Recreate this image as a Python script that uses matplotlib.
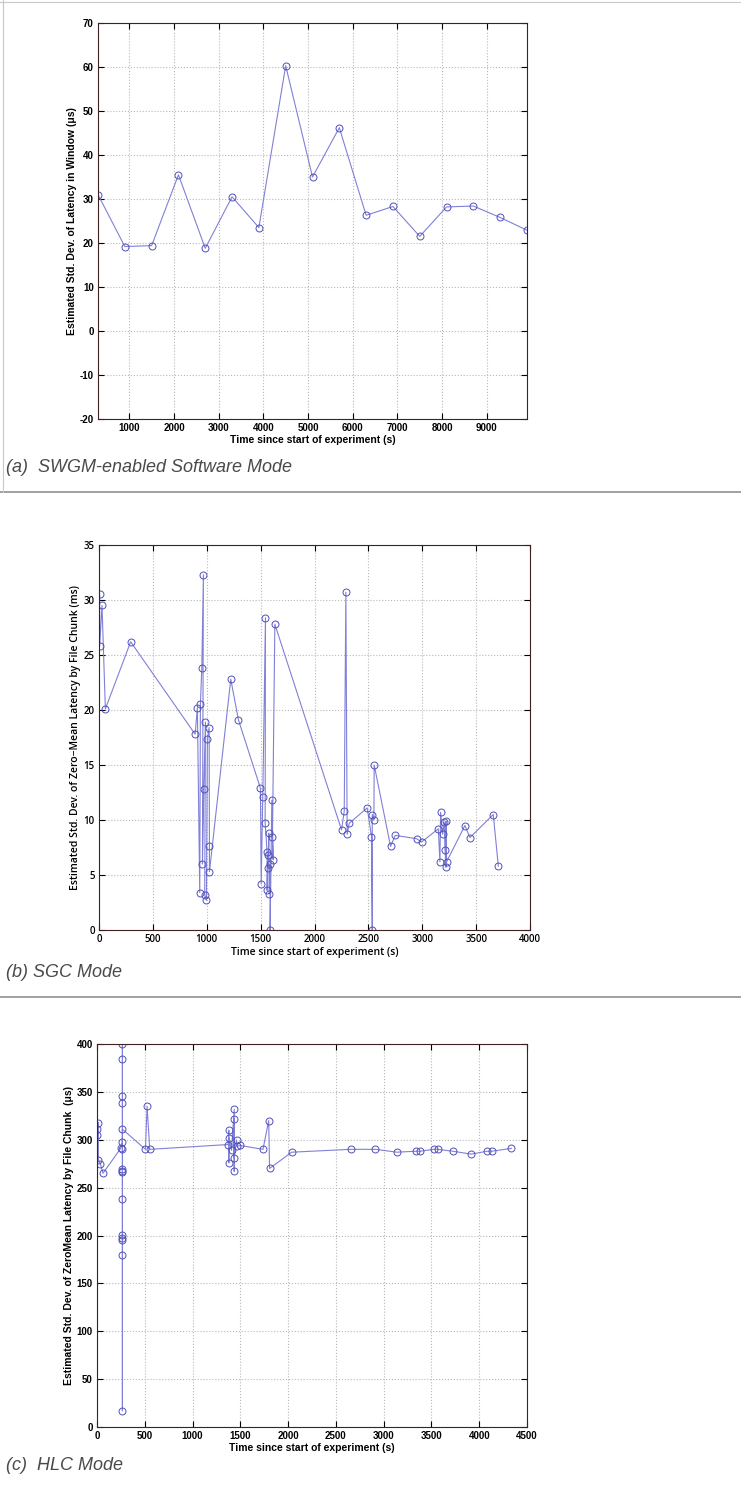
import matplotlib
matplotlib.use('Agg')
import matplotlib.pyplot as plt
from matplotlib.lines import Line2D

plt.rcParams['axes.unicode_minus'] = False

# (a) SWGM-enabled software mode
a_t = [300, 900, 1500, 2100, 2700, 3300, 3900, 4500, 5100, 5700, 6300, 6900,
       7500, 8100, 8700, 9300, 9900]
a_sd = [31.0, 19.2, 19.4, 35.5, 18.8, 30.5, 23.5, 60.3, 35.0, 46.2, 26.3, 28.3,
        21.5, 28.2, 28.4, 25.8, 22.9]

# (b) SGC mode
b_t = [6, 6, 28, 59, 294, 892, 913, 935, 941, 954, 969, 960, 972, 988, 981,
       997, 1006, 1022, 1025, 1025, 1223, 1294, 1498, 1505, 1520, 1545, 1542,
       1560, 1560, 1567, 1570, 1576, 1579, 1588, 1588, 1604, 1616, 1610, 1632,
       2251, 2276, 2291, 2303, 2322, 2489, 2529, 2536, 2536, 2551, 2554, 2706,
       2749, 2947, 2994, 3149, 3164, 3170, 3189, 3204, 3211, 3220, 3220, 3226,
       3396, 3443, 3659, 3706]
b_sd = [30.5, 25.8, 29.5, 20.1, 26.2, 17.8, 20.2, 3.4, 20.5, 23.8, 32.3, 6.0,
        12.8, 18.9, 3.2, 2.7, 17.4, 18.4, 7.6, 5.3, 22.8, 19.1, 12.9, 4.2, 12.1,
        28.4, 9.7, 7.1, 3.6, 6.8, 5.6, 8.8, 3.3, 6.0, 0.0, 11.8, 6.4, 8.5, 27.8,
        9.1, 10.8, 30.7, 8.7, 9.7, 11.1, 8.5, 0.0, 10.5, 10.0, 15.0, 7.6, 8.6,
        8.3, 8.0, 9.2, 6.2, 10.7, 8.7, 9.8, 7.3, 5.7, 9.9, 6.2, 9.5, 8.4, 10.5,
        5.8]

# (c) HLC mode
c_t = [5, 5, 14, 14, 35, 63, 248, 266, 266, 266, 266, 266, 266, 266, 266, 266,
       266, 266, 266, 266, 266, 266, 266, 507, 524, 552, 1373, 1380, 1380, 1380,
       1408, 1436, 1436, 1436, 1436, 1460, 1464, 1499, 1737, 1797, 1806, 2037,
       2656, 2914, 3138, 3337, 3382, 3526, 3564, 3725, 3917, 4081, 4134, 4336]
c_sd = [311, 305, 318, 279, 275, 265, 291, 298, 400, 384, 346, 338, 290, 269,
        267, 238, 201, 197, 195, 180, 17, 266, 311, 290, 335, 290, 295, 310,
        276, 302, 289, 332, 267, 322, 281, 300, 293, 294, 290, 320, 270, 287,
        290, 290, 287, 288, 288, 290, 290, 288, 285, 288, 288, 291]

W, H = 741, 1491
fig = plt.figure(figsize=(W / 100, H / 100), dpi=100)


def rect(l, t, r, b):
    return [l / W, 1 - b / H, (r - l) / W, (b - t) / H]


def panel(box, x, y, xlim, xt, ylim, yt, ylab, fam, weight):
    ax = fig.add_axes(rect(*box))
    ax.plot(x, y, '-', color='#8080d8', lw=0.8)
    ax.plot(x, y, 'o', mfc='none', mec='#5050b8', ms=5, mew=0.7)
    ax.set_xlim(*xlim)
    ax.set_ylim(*ylim)
    ax.set_xticks(xt)
    ax.set_yticks(yt)
    ax.grid(True, ls=':', color='#b8b8b8', lw=0.8)
    ax.tick_params(direction='in', top=True, right=True, length=4, width=0.8,
                   labelsize=7, pad=3)
    for lab in ax.get_xticklabels() + ax.get_yticklabels():
        lab.set_family(fam)
        lab.set_weight(weight)
    for s in ax.spines.values():
        s.set_color('#402020')
        s.set_linewidth(0.8)
    ax.set_xlabel('Time since start of experiment (s)', fontsize=7.5,
                  family=fam, weight=weight, labelpad=1)
    ax.set_ylabel(ylab, fontsize=7.5, family=fam, weight=weight, labelpad=2)
    return ax


panel((98, 23, 527, 419), a_t, a_sd, (300, 9900), range(1000, 9001, 1000),
      (-20, 70), range(-20, 71, 10),
      'Estimated Std. Dev. of Latency in Window (\u03bcs)',
      'Liberation Sans', 'bold')
panel((99, 545, 530, 930), b_t, b_sd, (0, 4000), range(0, 4001, 500),
      (0, 35), range(0, 36, 5),
      'Estimated Std. Dev. of Zero\u2212Mean Latency by File Chunk (ms)',
      'Open Sans', 'semibold')
panel((97, 1044, 527, 1427), c_t, c_sd, (0, 4500), range(0, 4501, 500),
      (0, 400), range(0, 401, 50),
      'Estimated Std. Dev. of ZeroMean Latency by File Chunk  (\u03bcs)',
      'Liberation Sans', 'bold')

captions = ['(a)  SWGM-enabled Software Mode', '(b) SGC Mode', '(c)  HLC Mode']
cap_y = [467, 972, 1466]
for txt, yy in zip(captions, cap_y):
    fig.text(6 / W, 1 - yy / H, txt, fontsize=13, style='italic',
             family='Liberation Sans', color='#4a4a4a', va='center')

for yy in [492, 997]:
    fig.add_artist(Line2D([0, 1], [1 - yy / H] * 2, color='#909090', lw=1.2))
fig.add_artist(Line2D([3 / W, 3 / W], [1 - 492 / H, 1], color='#c8c8c8', lw=0.8))
fig.add_artist(Line2D([0, 1], [1 - 2 / H] * 2, color='#c8c8c8', lw=0.8))

fig.savefig('out.png', dpi=100)
